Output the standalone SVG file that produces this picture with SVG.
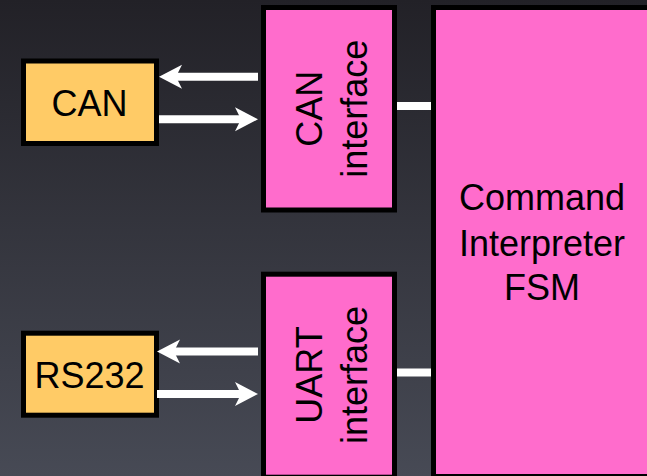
<svg xmlns="http://www.w3.org/2000/svg" width="647" height="476" viewBox="0 0 647 476">
<defs>
<linearGradient id="bg" x1="0" y1="0" x2="0" y2="1">
<stop offset="0" stop-color="#222127"/>
<stop offset="1" stop-color="#474a55"/>
</linearGradient>
<path id="head" d="M0,0 L-23,-12 L-17,0 L-23,12 Z" fill="#ffffff"/>
</defs>
<style>
.pink{fill:#ff6ccc;stroke:#000;stroke-width:5}
.orange{fill:#ffcb66;stroke:#000;stroke-width:5}
.lbl{font-family:"Liberation Sans",Arial,sans-serif;font-size:36px;fill:#000;text-anchor:middle}
.wire{stroke:#ffffff;stroke-width:8;fill:none}
</style>
<rect x="0" y="0" width="647" height="476" fill="url(#bg)"/>
<g id="can">
<rect class="orange" x="23.5" y="61" width="133" height="82.5"/>
<text class="lbl" x="89.5" y="116">CAN</text>
</g>
<g id="rs232">
<rect class="orange" x="23.5" y="333.2" width="133" height="82"/>
<text class="lbl" x="89.5" y="388">RS232</text>
</g>
<g id="can-interface">
<rect class="pink" x="263.5" y="7.5" width="131" height="202.5"/>
<text class="lbl" transform="translate(321.5,108.7) rotate(-90)"><tspan x="0" y="0">CAN</tspan><tspan x="0" y="45">interface</tspan></text>
</g>
<g id="uart-interface">
<rect class="pink" x="263.5" y="274.2" width="131" height="203"/>
<text class="lbl" transform="translate(321.5,375) rotate(-90)"><tspan x="0" y="0">UART</tspan><tspan x="0" y="45">interface</tspan></text>
</g>
<g id="fsm">
<rect class="pink" x="433.5" y="7.5" width="250" height="469"/>
<text class="lbl"><tspan x="542" y="210">Command</tspan><tspan x="542" y="256">Interpreter</tspan><tspan x="542" y="300">FSM</tspan></text>
</g>
<g id="connectors">
<line class="wire" x1="258" y1="76.7" x2="175" y2="76.7"/>
<use href="#head" transform="translate(159,76.7) rotate(180)"/>
<line class="wire" x1="159" y1="119.3" x2="242" y2="119.3"/>
<use href="#head" transform="translate(258,119.3)"/>
<line class="wire" x1="258" y1="351.5" x2="173" y2="351.5"/>
<use href="#head" transform="translate(157,351.5) rotate(180)"/>
<line class="wire" x1="157" y1="394" x2="242" y2="394"/>
<use href="#head" transform="translate(258,394)"/>
<line class="wire" x1="397" y1="106" x2="431" y2="106"/>
<line class="wire" x1="397" y1="372.5" x2="431" y2="372.5"/>
</g>
</svg>
